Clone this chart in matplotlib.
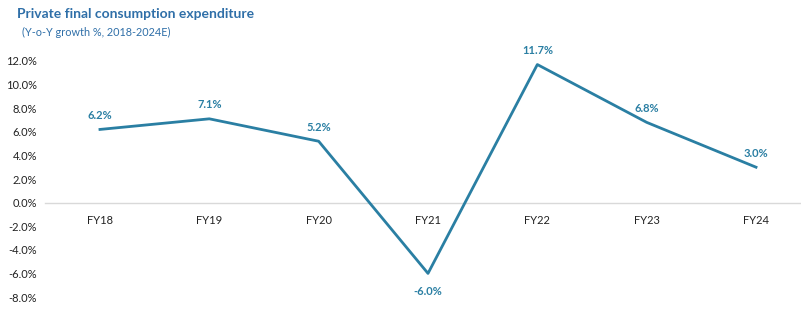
import matplotlib
matplotlib.use("Agg")
import matplotlib.pyplot as plt
from matplotlib.ticker import FuncFormatter

plt.rcParams['font.family'] = ['Lato', 'DejaVu Sans']

years = ['FY18', 'FY19', 'FY20', 'FY21', 'FY22', 'FY23', 'FY24']
growth = [6.2, 7.1, 5.2, -6.0, 11.7, 6.8, 3.0]

line_col = '#2a7fa3'
title_col = '#2f6fa8'

fig = plt.figure(figsize=(8.01, 3.09), dpi=100, facecolor='w')
ax = fig.add_axes([45.3 / 801, 1 - 297 / 309, 765.4 / 801, 236 / 309])

x = list(range(len(years)))
ax.plot(x, growth, color=line_col, linewidth=2, zorder=3)

for i, v in enumerate(growth):
    if v < 0:
        ax.annotate('%.1f%%' % v, (i, v), xytext=(0, -9), textcoords='offset points',
                    ha='center', va='top', fontsize=8, fontweight='bold', color=line_col)
    else:
        ax.annotate('%.1f%%' % v, (i, v), xytext=(0, 6), textcoords='offset points',
                    ha='center', va='bottom', fontsize=8, fontweight='bold', color=line_col)

ax.set_xlim(-0.5, len(years) - 0.5)
ax.set_ylim(-8, 12)
ax.set_yticks(range(-8, 13, 2))
ax.yaxis.set_major_formatter(FuncFormatter(lambda v, p: '%.1f%%' % v))
ax.set_xticks(x)
ax.set_xticklabels(years)

for s in ['top', 'right', 'left']:
    ax.spines[s].set_visible(False)
ax.spines['bottom'].set_position(('data', 0))
ax.spines['bottom'].set_color('#d9d9d9')
ax.spines['bottom'].set_linewidth(1)
ax.tick_params(axis='both', length=0, labelsize=8, colors='#222222')
ax.tick_params(axis='x', pad=9)
ax.tick_params(axis='y', pad=6)

fig.text(17 / 801, 1 - 14 / 309, 'Private final consumption expenditure', fontsize=10,
         fontweight='bold', color=title_col, va='center', ha='left')
fig.text(22 / 801, 1 - 32 / 309, '(Y-o-Y growth %, 2018-2024E)', fontsize=7.8,
         color=title_col, va='center', ha='left')

fig.savefig('out.png', dpi=100, facecolor='w')
